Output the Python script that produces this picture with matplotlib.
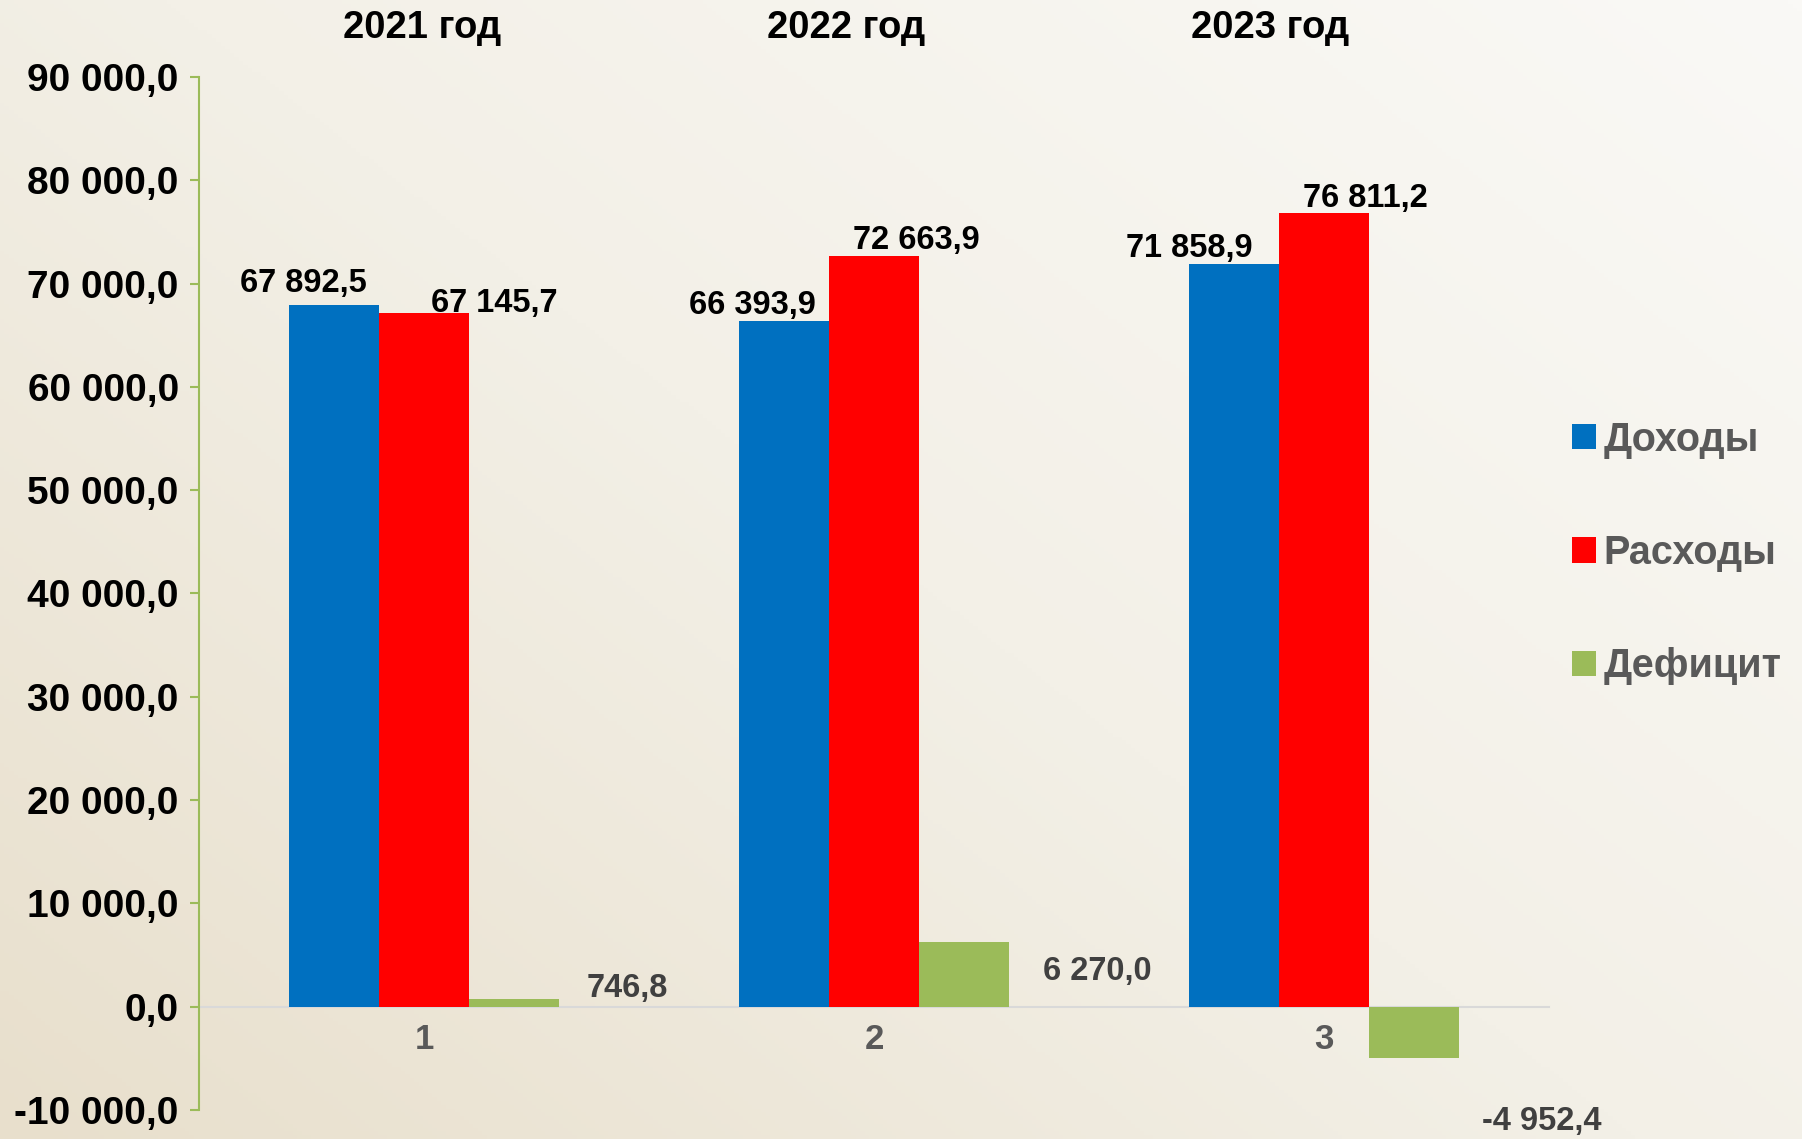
import matplotlib

matplotlib.use("Agg")

import matplotlib.pyplot as plt
import numpy as np
from matplotlib.colors import LinearSegmentedColormap
from matplotlib.ticker import FuncFormatter, MultipleLocator

plt.rcParams["font.family"] = ["Liberation Sans", "DejaVu Sans"]
plt.rcParams["font.weight"] = "bold"

YEARS = ["2021 год", "2022 год", "2023 год"]
CATEGORIES = ["1", "2", "3"]
SERIES = ["Доходы", "Расходы", "Дефицит"]
INCOME = [67892.5, 66393.9, 71858.9]
EXPENSES = [67145.7, 72663.9, 76811.2]
DEFICIT = [746.8, 6270.0, -4952.4]

COLORS = ["#0070C0", "#FF0000", "#9BBB59"]
LABEL_COLORS = ["black", "black", "#404040"]
# hand-placed data label offsets (pixels), like in the original slide
LABEL_OFFSETS = [
    [(-31, 22), (-32, 15), (-45, 16)],
    [(70, 10), (42, 16), (41, 15)],
    [(113, 10), (133, -30), (128, -64)],
]


def ru_number(value, _pos=None):
    text = f"{abs(value):,.1f}".replace(",", " ").replace(".", ",")
    return ("-" if value < 0 else "") + text


def draw_background(fig):
    bg = fig.add_axes([0, 0, 1, 1], zorder=-10)
    xs = np.linspace(0, 1, 400)
    ys = np.linspace(0, 1, 300)
    gx, gy = np.meshgrid(xs, ys)
    grad = np.clip(0.55 * gx + 0.45 * gy, 0, 1)
    cmap = LinearSegmentedColormap.from_list(
        "slide", ["#E8DFCC", "#F3F0E7", "#FAF9F6"]
    )
    bg.imshow(grad, cmap=cmap, origin="lower", aspect="auto", extent=[0, 1, 0, 1])
    bg.axis("off")


def main() -> None:
    fig = plt.figure(figsize=(18.02, 11.39), dpi=100)
    draw_background(fig)

    ax = fig.add_axes([0.1104, 0.0255, 0.7492, 0.9069])
    ax.patch.set_alpha(0)

    x = np.arange(1, len(CATEGORIES) + 1)
    width = 0.2
    bars = []
    for i, (values, color) in enumerate(zip([INCOME, EXPENSES, DEFICIT], COLORS)):
        b = ax.bar(x + (i - 1) * width, values, width, color=color,
                   label=SERIES[i], zorder=3)
        bars.append(b)
        for j, rect in enumerate(b):
            cx = rect.get_x() + rect.get_width() / 2
            ax.annotate(
                ru_number(values[j]),
                (cx, values[j]),
                xytext=LABEL_OFFSETS[i][j],
                textcoords="offset pixels",
                ha="center",
                va="center",
                fontsize=23.5,
                fontweight="bold",
                color=LABEL_COLORS[i],
                zorder=5,
            )

    ax.set_xlim(0.5, 3.5)
    ax.set_ylim(-10000, 90000)
    ax.yaxis.set_major_locator(MultipleLocator(10000))
    ax.yaxis.set_major_formatter(FuncFormatter(ru_number))

    ax.set_xticks(x)
    ax.set_xticklabels(CATEGORIES)
    ax.tick_params(axis="x", length=0, pad=12, labelsize=25, labelcolor="#595959")
    ax.tick_params(axis="y", direction="out", length=6.5, width=1.5,
                   color="#9BBB59", pad=8, labelsize=28, labelcolor="black")

    for side in ["top", "right"]:
        ax.spines[side].set_visible(False)
    ax.spines["left"].set_color("#9BBB59")
    ax.spines["left"].set_linewidth(1.5)
    ax.spines["bottom"].set_position(("data", 0))
    ax.spines["bottom"].set_color("#D9D9D9")
    ax.spines["bottom"].set_linewidth(1.5)
    ax.spines["bottom"].set_zorder(2)

    for label, xpos in zip(YEARS, [0.234, 0.4693, 0.705]):
        fig.text(xpos, 0.975, label, ha="center", va="center",
                 fontsize=27.5, fontweight="bold", color="black")

    leg = fig.legend(
        [b[0] for b in bars],
        SERIES,
        loc="center left",
        bbox_to_anchor=(0.8724, 0.5145),
        frameon=False,
        fontsize=28.5,
        handlelength=0.6,
        handleheight=0.6,
        handletextpad=0.2,
        labelspacing=1.9,
        borderpad=0,
        borderaxespad=0,
    )
    for text in leg.get_texts():
        text.set_color("#595959")
        text.set_fontweight("bold")

    fig.savefig("out.png", dpi=100)
    plt.close(fig)


if __name__ == "__main__":
    main()
